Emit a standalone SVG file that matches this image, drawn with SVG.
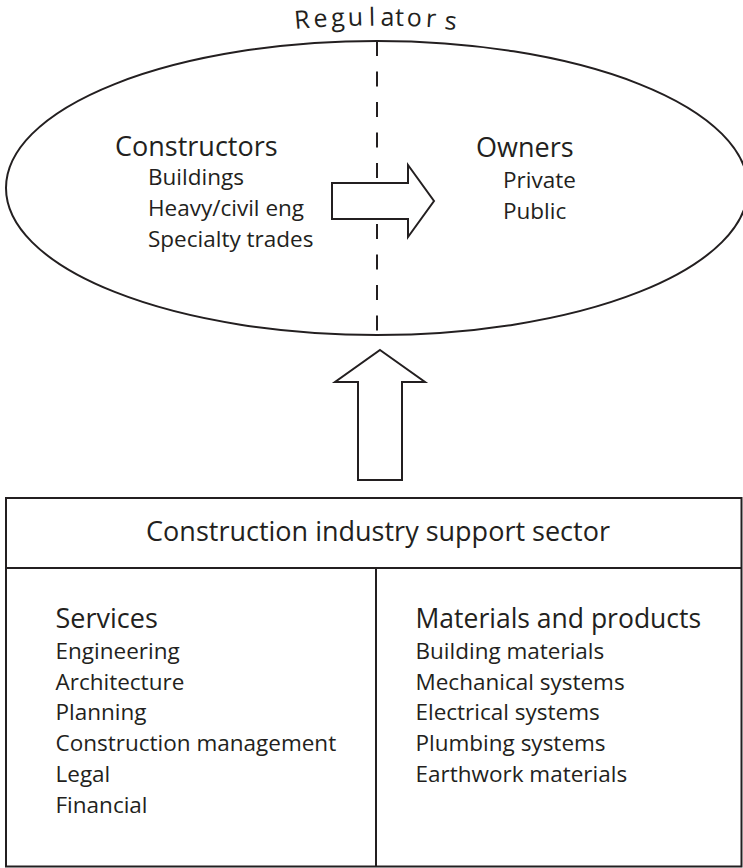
<svg xmlns="http://www.w3.org/2000/svg" width="743" height="868" viewBox="0 0 743 868">
<style>
  .t { font-family: "Open Sans", "Liberation Sans", sans-serif; fill: #231f20; }
  .h { font-size: 27px; }
  .i { font-size: 22.5px; }
  .r { font-size: 25px; }
  .ln { fill: none; stroke: #231f20; stroke-width: 2; }
  .arrow { fill: #ffffff; stroke: #231f20; stroke-width: 2; stroke-linejoin: miter; }
</style>
<rect width="743" height="868" fill="#ffffff"/>

<g id="regulators">
  <text class="t r" x="295 314 331.5 348 369 380.5 395 406.5 425.5 444" y="29 27.6 26.6 26 25.7 25.7 25.7 26 26.7 29" rotate="-5 -4 -3 -2 -1 0 1 2 3.5 5.5">Regulators</text>
</g>

<g id="industry-ellipse">
  <ellipse class="ln" cx="377" cy="188" rx="371" ry="147"/>
</g>

<g id="connectors">
  <line class="ln" x1="377" y1="41" x2="377" y2="334" stroke-dasharray="15 15.5"/>
  <path id="arrow-constructors-owners" class="arrow" d="M332,183 L408,183 L408,165 L434,201 L408,237 L408,219 L332,219 Z"/>
  <path id="arrow-support-up" class="arrow" d="M380,350 L425,382 L402,382 L402,480 L358,480 L358,382 L335,382 Z"/>
</g>

<g id="constructors">
  <text class="t h" x="115" y="156">Constructors</text>
  <text class="t i" x="148" y="185">Buildings</text>
  <text class="t i" x="148" y="216">Heavy/civil eng</text>
  <text class="t i" x="148" y="246.5">Specialty trades</text>
</g>

<g id="owners">
  <text class="t h" x="476" y="157">Owners</text>
  <text class="t i" x="503" y="188">Private</text>
  <text class="t i" x="503" y="219">Public</text>
</g>

<g id="support-sector">
  <rect class="ln" x="6" y="498" width="735.5" height="368.5"/>
  <line class="ln" x1="6" y1="568" x2="741.5" y2="568"/>
  <line class="ln" x1="376" y1="568" x2="376" y2="866.5"/>
  <text class="t h" x="378" y="541" text-anchor="middle">Construction industry support sector</text>
</g>

<g id="services">
  <text class="t h" x="55.5" y="628">Services</text>
  <text class="t i" x="55.5" y="658.5">Engineering</text>
  <text class="t i" x="55.5" y="689.5">Architecture</text>
  <text class="t i" x="55.5" y="720">Planning</text>
  <text class="t i" x="55.5" y="751">Construction management</text>
  <text class="t i" x="55.5" y="782">Legal</text>
  <text class="t i" x="55.5" y="813">Financial</text>
</g>

<g id="materials">
  <text class="t h" x="415.5" y="628" style="font-size:26.5px">Materials and products</text>
  <text class="t i" x="415.5" y="658.5">Building materials</text>
  <text class="t i" x="415.5" y="689.5">Mechanical systems</text>
  <text class="t i" x="415.5" y="720">Electrical systems</text>
  <text class="t i" x="415.5" y="751">Plumbing systems</text>
  <text class="t i" x="415.5" y="782">Earthwork materials</text>
</g>
</svg>
